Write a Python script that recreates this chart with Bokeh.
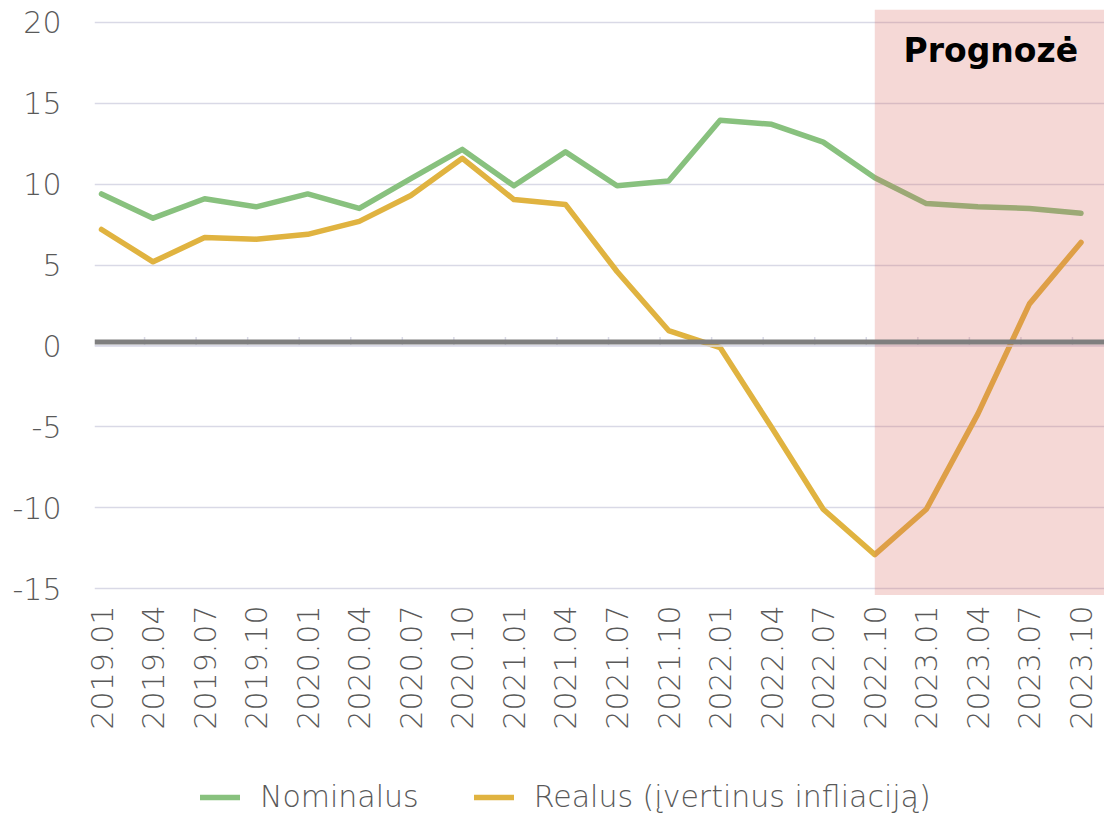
from bokeh.plotting import figure
from bokeh.layouts import column
from bokeh.models import (FixedTicker, BoxAnnotation, Span, Label, Legend, LegendItem,
                          ColumnDataSource, Range1d)
from bokeh.embed import file_html
from bokeh.resources import INLINE

# ---- data ----
periods = ["2019.01", "2019.04", "2019.07", "2019.10",
           "2020.01", "2020.04", "2020.07", "2020.10",
           "2021.01", "2021.04", "2021.07", "2021.10",
           "2022.01", "2022.04", "2022.07", "2022.10",
           "2023.01", "2023.04", "2023.07", "2023.10"]
nominal = [9.4, 7.9, 9.1, 8.6, 9.4, 8.5, 10.35, 12.15, 9.9, 12.0,
           9.9, 10.2, 13.95, 13.7, 12.6, 10.4, 8.8, 8.6, 8.5, 8.2]
real = [7.2, 5.2, 6.7, 6.6, 6.9, 7.7, 9.3, 11.6, 9.05, 8.75,
        4.6, 0.95, -0.1, -5.05, -10.1, -12.9, -10.1, -4.2, 2.6, 6.4]
series_names = ["Nominalus", "Realus (įvertinus infliaciją)"]
forecast_start = "2022.10"
forecast_label = "Prognozė"
y_ticks = [-15, -10, -5, 0, 5, 10, 15, 20]
y_tick_labels = ["-15", "-10", "-5", "0", "5", "10", "15", "20"]

# ---- styles ----
GREEN = "#88C17E"
YELLOW = "#E0B340"
GRID = "#D9D9E6"
LABEL_FONT = "DejaVu Sans Light"
TEXT_COLOR = "#595959"
W = 1104

x_idx = list(range(len(periods)))
src = ColumnDataSource(dict(x=x_idx, nominal=nominal, real=real, label=periods))

p = figure(width=W, height=760, output_backend="svg", toolbar_location=None,
           x_range=Range1d(-0.136, 19.456), y_range=Range1d(-15.43, 20.8),
           min_border_left=94, min_border_right=0, min_border_top=9,
           min_border_bottom=165)
p.outline_line_color = None
p.background_fill_color = "white"
p.border_fill_color = "white"

# grid
p.xgrid.grid_line_color = None
p.ygrid.grid_line_color = GRID
p.ygrid.grid_line_width = 1.5
p.ygrid.ticker = FixedTicker(ticks=y_ticks)

# y axis
p.yaxis.ticker = FixedTicker(ticks=y_ticks)
p.yaxis.major_label_overrides = dict(zip(y_ticks, y_tick_labels))
p.yaxis.axis_line_color = None
p.yaxis.major_tick_line_color = None
p.yaxis.minor_tick_line_color = None
p.yaxis.major_label_text_font = LABEL_FONT
p.yaxis.major_label_text_font_size = "30px"
p.yaxis.major_label_text_color = TEXT_COLOR
p.yaxis.major_label_standoff = 27

# x axis
p.xaxis.ticker = FixedTicker(ticks=x_idx)
p.xaxis.major_label_overrides = {i: lab for i, lab in enumerate(periods)}
p.xaxis.major_label_orientation = 1.5707963
p.xaxis.axis_line_color = None
p.xaxis.major_tick_line_color = None
p.xaxis.minor_tick_line_color = None
p.xaxis.major_label_text_font = LABEL_FONT
p.xaxis.major_label_text_font_size = "30px"
p.xaxis.major_label_text_color = TEXT_COLOR
p.xaxis.major_label_standoff = 4

# category axis line at zero with small tick marks
p.add_layout(Span(location=0, dimension="width", line_color=GRID, line_width=1.5))
tick_pos = [i - 0.165 for i in x_idx]
p.segment(x0=tick_pos, x1=tick_pos, y0=[0] * len(tick_pos), y1=[0.55] * len(tick_pos),
          line_color=GRID, line_width=1.5)

r_nom = p.line("x", "nominal", source=src, line_color=GREEN, line_width=5.5,
               line_join="round", line_cap="round")
r_real = p.line("x", "real", source=src, line_color=YELLOW, line_width=5.5,
                line_join="round", line_cap="round")

# forecast shading (drawn over the lines)
fc_left = periods.index(forecast_start)
p.add_layout(BoxAnnotation(left=fc_left, bottom=-15.4, fill_color="#D9655C",
                           fill_alpha=0.25, line_color=None))

# thick dark zero line
p.add_layout(Span(location=0.24, dimension="width", line_color="#7F7F7F", line_width=5))

p.add_layout(Label(x=17.25, y=18.27, text=forecast_label, text_font="DejaVu Sans",
                   text_font_style="bold", text_font_size="33px", text_color="black",
                   text_align="center", text_baseline="alphabetic"))

# ---- legend strip ----
lg = figure(width=W, height=56, output_backend="svg", toolbar_location=None,
            x_axis_location=None, y_axis_location=None,
            x_range=Range1d(0, 1), y_range=Range1d(0, 1),
            min_border_left=0, min_border_right=0, min_border_top=0, min_border_bottom=0)
lg.outline_line_color = None
lg.xgrid.grid_line_color = None
lg.ygrid.grid_line_color = None
offscreen = ColumnDataSource(dict(x=[-10, -9], y=[-10, -10]))
d_nom = lg.line("x", "y", source=offscreen, line_color=GREEN, line_width=5.5, line_cap="round")
d_real = lg.line("x", "y", source=offscreen, line_color=YELLOW, line_width=5.5, line_cap="round")
legend = Legend(items=[LegendItem(label=series_names[0], renderers=[d_nom]),
                       LegendItem(label=series_names[1], renderers=[d_real])],
                orientation="horizontal", location=(106, 2),
                label_text_font=LABEL_FONT, label_text_font_size="30px",
                label_text_color=TEXT_COLOR, glyph_width=40, glyph_height=20,
                label_standoff=20, spacing=55, padding=0, margin=0,
                border_line_color=None, background_fill_alpha=0)
lg.add_layout(legend)

layout = column(p, lg, spacing=0)
open("out.html", "w").write(file_html(layout, INLINE))
